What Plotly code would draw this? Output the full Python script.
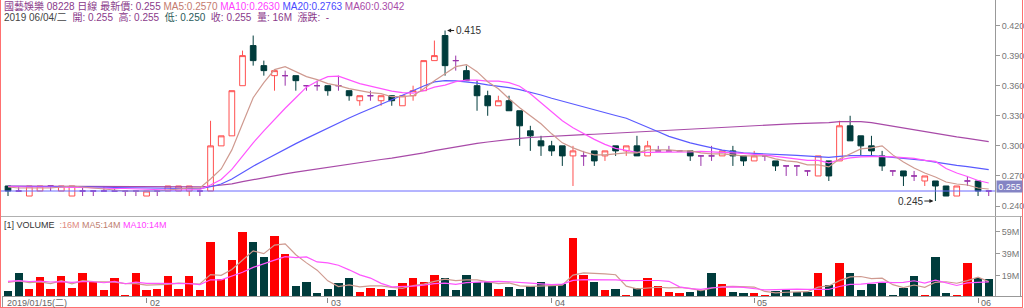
import plotly.graph_objects as go

# ---------------- data ----------------
opens = [0.26, 0.255, 0.25, 0.255, 0.26, 0.255, 0.25, 0.255, 0.255, 0.255,
         0.255, 0.255, 0.255, 0.25, 0.255, 0.255, 0.255, 0.255, 0.255, 0.255,
         0.30, 0.31, 0.36, 0.40, 0.38, 0.37, 0.37, 0.37, 0.36, 0.36,
         0.36, 0.36, 0.355, 0.345, 0.35, 0.345, 0.35, 0.34, 0.35, 0.355,
         0.385, 0.41, 0.385, 0.375, 0.36, 0.35, 0.34, 0.345, 0.335, 0.315,
         0.305, 0.30, 0.30, 0.29, 0.29, 0.295, 0.29, 0.30, 0.295, 0.30,
         0.29, 0.295, 0.295, 0.295, 0.295, 0.29, 0.29, 0.29, 0.295, 0.29,
         0.285, 0.29, 0.285, 0.28, 0.28, 0.275, 0.27, 0.285, 0.285, 0.32,
         0.31, 0.30, 0.29, 0.275, 0.275, 0.27, 0.265, 0.265, 0.26, 0.25,
         0.265, 0.265, 0.255]
highs = [0.26, 0.26, 0.26, 0.26, 0.26, 0.26, 0.26, 0.26, 0.255, 0.26,
         0.26, 0.255, 0.255, 0.255, 0.255, 0.26, 0.26, 0.26, 0.255, 0.325,
         0.31, 0.355, 0.395, 0.41, 0.385, 0.375, 0.375, 0.37, 0.36, 0.365,
         0.36, 0.37, 0.355, 0.35, 0.355, 0.35, 0.35, 0.35, 0.36, 0.385,
         0.405, 0.415, 0.39, 0.38, 0.365, 0.355, 0.35, 0.35, 0.335, 0.32,
         0.31, 0.305, 0.30, 0.30, 0.295, 0.295, 0.295, 0.30, 0.30, 0.31,
         0.305, 0.30, 0.30, 0.295, 0.295, 0.29, 0.30, 0.295, 0.30, 0.29,
         0.295, 0.29, 0.285, 0.28, 0.28, 0.275, 0.29, 0.285, 0.325, 0.33,
         0.31, 0.31, 0.295, 0.275, 0.275, 0.275, 0.27, 0.265, 0.26, 0.26,
         0.27, 0.265, 0.255]
lows = [0.25, 0.255, 0.25, 0.255, 0.255, 0.255, 0.25, 0.25, 0.25, 0.255,
        0.255, 0.25, 0.25, 0.25, 0.25, 0.255, 0.255, 0.25, 0.25, 0.255,
        0.30, 0.31, 0.36, 0.38, 0.37, 0.355, 0.36, 0.355, 0.355, 0.355,
        0.35, 0.355, 0.345, 0.34, 0.345, 0.34, 0.34, 0.34, 0.345, 0.355,
        0.385, 0.37, 0.375, 0.365, 0.335, 0.33, 0.34, 0.335, 0.30, 0.295,
        0.29, 0.29, 0.28, 0.26, 0.28, 0.28, 0.285, 0.29, 0.29, 0.29,
        0.29, 0.295, 0.295, 0.295, 0.285, 0.28, 0.285, 0.29, 0.28, 0.28,
        0.285, 0.285, 0.275, 0.27, 0.27, 0.27, 0.27, 0.265, 0.285, 0.305,
        0.29, 0.29, 0.275, 0.27, 0.26, 0.265, 0.26, 0.245, 0.25, 0.25,
        0.26, 0.25, 0.25]
closes = [0.255, 0.255, 0.26, 0.26, 0.26, 0.26, 0.26, 0.255, 0.255, 0.255,
          0.255, 0.255, 0.255, 0.255, 0.255, 0.26, 0.26, 0.26, 0.255, 0.30,
          0.31, 0.355, 0.39, 0.385, 0.375, 0.375, 0.37, 0.365, 0.36, 0.36,
          0.355, 0.36, 0.35, 0.35, 0.35, 0.35, 0.345, 0.35, 0.355, 0.385,
          0.39, 0.38, 0.385, 0.365, 0.35, 0.34, 0.345, 0.335, 0.32, 0.31,
          0.30, 0.295, 0.29, 0.295, 0.29, 0.285, 0.295, 0.295, 0.30, 0.29,
          0.30, 0.295, 0.295, 0.295, 0.29, 0.29, 0.29, 0.295, 0.29, 0.285,
          0.29, 0.29, 0.28, 0.28, 0.28, 0.275, 0.29, 0.27, 0.32, 0.305,
          0.30, 0.295, 0.28, 0.275, 0.27, 0.27, 0.27, 0.26, 0.25, 0.26,
          0.265, 0.255, 0.255]
# volume in millions of shares
volumes = [5.5, 22.0, 7.3, 18.1, 7.3, 18.7, 7.9, 22.0, 13.9, 6.1,
           16.9, 1.7, 22.0, 6.7, 7.3, 19.3, 7.3, 18.7, 6.1, 49.4,
           16.3, 33.7, 59.0, 50.0, 36.4, 55.4, 38.6, 10.3, 13.3, 3.4,
           7.3, 13.0, 17.5, 4.3, 7.9, 7.3, 6.7, 13.0, 16.9, 13.9,
           20.2, 16.9, 6.4, 20.2, 13.3, 13.3, 7.3, 9.4, 7.3, 10.3,
           13.9, 10.3, 11.5, 53.0, 20.2, 13.3, 6.7, 7.3, 1.7, 7.9,
           16.9, 10.3, 4.3, 3.4, 4.3, 6.1, 21.4, 11.5, 4.9, 3.2,
           4.0, 1.4, 5.5, 7.3, 4.9, 4.9, 22.0, 10.9, 31.0, 22.0,
           6.7, 12.1, 13.3, 1.4, 8.5, 18.7, 1.7, 35.9, 4.0, 1.7,
           30.4, 17.5, 16.0]
# 1 = red volume bar, 0 = dark bar
vol_up = [0, 0, 1, 1, 1, 1, 1, 1, 1, 1,
          1, 1, 1, 1, 1, 1, 1, 1, 1, 1,
          1, 1, 1, 0, 0, 1, 1, 0, 0, 0,
          0, 0, 0, 1, 1, 1, 0, 1, 1, 1,
          1, 0, 0, 0, 0, 0, 1, 0, 0, 0,
          0, 0, 0, 1, 1, 0, 1, 0, 1, 0,
          1, 1, 1, 1, 0, 0, 0, 1, 0, 0,
          1, 1, 0, 0, 0, 0, 1, 0, 1, 0,
          0, 0, 0, 0, 0, 0, 1, 0, 0, 1,
          1, 0, 0]
# level of the moving averages before the first visible bar
prior_close = 0.26
prior_volume = 15.0

first_date_label = "2019/01/15(二)"
month_labels = ["02", "03", "04", "05", "06"]
month_starts = [13, 30, 51, 70, 91]
last_date_label = "2019 06/04/二"
stock_name = "國藝娛樂 08228 日線"
high_mark = 0.415
low_mark = 0.245

price_ticks = [0.24, 0.27, 0.30, 0.33, 0.36, 0.39, 0.42]
vol_ticks = [19, 39, 59]

# ---------------- helpers ----------------
W, H = 1024, 308
def fx(px):
    return px / W
def fy(py):
    return 1 - py / H

n = len(closes)
idx = list(range(n))

def rolling(vals, win, prior):
    ext = [prior] * (win - 1) + list(vals)
    return [sum(ext[i:i + win]) / win for i in range(len(vals))]

def f4(v):
    return f"{v + 1e-9:.4f}"

ma5 = rolling(closes, 5, prior_close)
ma10 = rolling(closes, 10, prior_close)
ma20 = rolling(closes, 20, prior_close)
ma60 = rolling(closes, 60, prior_close)
vma5 = rolling(volumes, 5, prior_volume)
vma10 = rolling(volumes, 10, prior_volume)

UP = "#ff5050"
DN = "#003c3c"
DOJI = "#9933aa"
C_MA5 = "#cf9a90"
C_MA10 = "#ff55ff"
C_MA20 = "#5a5aff"
C_MA60 = "#a84aa8"

def sub(arr, ids):
    return [arr[i] for i in ids]

up_i = [i for i in idx if closes[i] > opens[i]]
dn_i = [i for i in idx if closes[i] < opens[i]]
dj_i = [i for i in idx if closes[i] == opens[i]]

fig = go.Figure()

def candles(ids, line_c, fill_c):
    style = dict(line=dict(color=line_c, width=1), fillcolor=fill_c)
    return go.Candlestick(x=ids, open=sub(opens, ids), high=sub(highs, ids),
                          low=sub(lows, ids), close=sub(closes, ids),
                          increasing=style, decreasing=style,
                          whiskerwidth=0, showlegend=False, hoverinfo="skip",
                          xaxis="x", yaxis="y")

for name, vals, col in [("MA60", ma60, C_MA60), ("MA20", ma20, C_MA20),
                        ("MA10", ma10, C_MA10), ("MA5", ma5, C_MA5)]:
    fig.add_trace(go.Scatter(x=idx, y=vals, mode="lines", line=dict(color=col, width=1.2),
                             showlegend=False, hoverinfo="skip", xaxis="x", yaxis="y"))

fig.add_trace(candles(up_i, UP, "#ffffff"))
fig.add_trace(candles(dn_i, DN, DN))
fig.add_trace(candles(dj_i, DOJI, DOJI))

fig.add_trace(go.Bar(x=idx, y=volumes, width=0.78,
                     marker=dict(color=["#ff0000" if u else DN for u in vol_up], line=dict(width=0)),
                     showlegend=False, hoverinfo="skip", xaxis="x2", yaxis="y2"))
fig.add_trace(go.Scatter(x=idx, y=vma5, mode="lines", line=dict(color=C_MA5, width=1.2),
                         showlegend=False, hoverinfo="skip", xaxis="x2", yaxis="y2"))
fig.add_trace(go.Scatter(x=idx, y=vma10, mode="lines", line=dict(color=C_MA10, width=1.2),
                         showlegend=False, hoverinfo="skip", xaxis="x2", yaxis="y2"))

# pixel -> value mapping for the price panel (0.255 at y=191, 1003 px per unit)
def price_at(py):
    return closes[-1] + (191 - py) / 1003.0

vol_px_per_m = 1.108

xr = [(2 - 8) / 10.66, (995 - 8) / 10.66]
FONT = "Liberation Sans, Arial, Noto Sans CJK TC, sans-serif"

fig.update_layout(
    width=W, height=H, margin=dict(l=0, r=0, t=0, b=0),
    paper_bgcolor="white", plot_bgcolor="white",
    font=dict(family=FONT, size=10, color="#555"),
    boxgap=0.24, bargap=0,
    xaxis=dict(domain=[fx(2), fx(995)], range=xr, anchor="y", showticklabels=False,
               showgrid=False, zeroline=False, showline=False, ticks="",
               rangeslider=dict(visible=False), fixedrange=True),
    xaxis2=dict(domain=[fx(2), fx(995)], range=xr, anchor="y2", matches="x",
                showticklabels=False, showgrid=False, zeroline=False, showline=False,
                ticks="outside", ticklen=5, tickcolor="#888", tickvals=month_starts),
    yaxis=dict(domain=[fy(216), 1], range=[price_at(216), price_at(0)], side="right",
               anchor="x", tickvals=price_ticks, ticktext=[f"{t:.3f}" for t in price_ticks],
               ticks="outside", ticklen=4, tickcolor="#999", showline=True,
               linecolor="#999", linewidth=1, showgrid=False, zeroline=False,
               tickfont=dict(size=9, color="#777")),
    yaxis2=dict(domain=[fy(297), fy(217)], range=[0, (297 - 217) / vol_px_per_m],
                side="right", anchor="x2", tickvals=vol_ticks,
                ticktext=[f"{t}M" for t in vol_ticks], ticks="outside", ticklen=4,
                tickcolor="#999", showline=True, linecolor="#999", linewidth=1,
                showgrid=False, zeroline=False, tickfont=dict(size=9, color="#777")),
)

shapes = [
    dict(type="line", xref="paper", yref="y", x0=0, x1=fx(995), y0=closes[-1], y1=closes[-1],
         line=dict(color="#6a6aff", width=1)),
    dict(type="line", xref="paper", yref="paper", x0=0, x1=fx(1022), y0=fy(216.5), y1=fy(216.5),
         line=dict(color="#b0b0b0", width=1)),
    dict(type="line", xref="paper", yref="paper", x0=fx(2), x1=fx(1022), y0=fy(296.5), y1=fy(296.5),
         line=dict(color="#999", width=1)),
    dict(type="line", xref="paper", yref="paper", x0=fx(2.5), x1=fx(2.5), y0=fy(296.5), y1=fy(307),
         line=dict(color="#999", width=1)),
    dict(type="line", xref="paper", yref="paper", x0=fx(1020.5), x1=fx(1020.5), y0=fy(216.5), y1=fy(296.5),
         line=dict(color="#999", width=1)),
    dict(type="line", xref="paper", yref="paper", x0=fx(0.5), x1=fx(0.5), y0=0, y1=1,
         line=dict(color="#ff7070", width=1)),
    dict(type="line", xref="paper", yref="paper", x0=fx(1022.5), x1=fx(1022.5), y0=0, y1=1,
         line=dict(color="#ff7070", width=1)),
    dict(type="line", xref="paper", yref="paper", x0=0, x1=fx(1023), y0=fy(307.5), y1=fy(307.5),
         line=dict(color="#ff7070", width=1)),
]
fig.update_layout(shapes=shapes)

SP = "\u00a0"
P = "#8a3a8a"
line1 = (f'<span style="color:{P}">{stock_name} 最新價: {closes[-1]:.3f}</span> '
         f'<span style="color:#c47a6e">MA5:{f4(ma5[-1])}</span> '
         f'<span style="color:#ff40ff">MA10:{f4(ma10[-1])}</span> '
         f'<span style="color:#4a4aff">MA20:{f4(ma20[-1])}</span> '
         f'<span style="color:{C_MA60}">MA60:{f4(ma60[-1])}</span>')
line2 = (f'<span style="color:#444">{last_date_label}</span>{SP}{SP}'
         f'<span style="color:{P}">開: {opens[-1]:.3f}{SP}{SP}高: {highs[-1]:.3f}{SP}{SP}</span>'
         f'<span style="color:#2a5a5a">低: {lows[-1]:.3f}</span>{SP}{SP}'
         f'<span style="color:{P}">收: {closes[-1]:.3f}{SP}{SP}量: {volumes[-1]:.0f}M{SP}{SP}漲跌:{SP}{SP}-</span>')
vline = (f'<span style="color:#333">[1] VOLUME</span>{SP}{SP}'
         f'<span style="color:#e08a80">:{volumes[-1]:.0f}M</span> '
         f'<span style="color:#c08070">MA5:{vma5[-1]:.0f}M</span> '
         f'<span style="color:#ff40ff">MA10:{vma10[-1]:.0f}M</span>')

ann = [
    dict(text=line1, xref="paper", yref="paper", x=fx(2), y=fy(6.5), xanchor="left",
         yanchor="middle", showarrow=False, font=dict(size=10)),
    dict(text=line2, xref="paper", yref="paper", x=fx(2), y=fy(17), xanchor="left",
         yanchor="middle", showarrow=False, font=dict(size=10)),
    dict(text=vline, xref="paper", yref="paper", x=fx(2), y=fy(224.5), xanchor="left",
         yanchor="middle", showarrow=False, font=dict(size=9)),
    dict(text=first_date_label, xref="paper", yref="paper", x=fx(5), y=fy(302.5),
         xanchor="left", yanchor="middle", showarrow=False, font=dict(size=9, color="#666")),
    dict(text=f"{closes[-1]:.3f}", xref="paper", yref="y", x=fx(996), y=price_at(186),
         xanchor="left", yanchor="middle", showarrow=False, bgcolor="#8484c4",
         font=dict(size=9, color="white"), width=25, height=11, borderpad=0),
    dict(text=f"{high_mark:.3f}", xref="x", yref="y", x=highs.index(high_mark) + 0.1, y=high_mark,
         ax=22, ay=0, showarrow=True, arrowhead=2, arrowsize=0.8, arrowwidth=1,
         arrowcolor="#222", font=dict(size=10, color="#333"), standoff=1),
    dict(text=f"{low_mark:.3f}", xref="x", yref="y", x=lows.index(low_mark) - 0.1, y=low_mark,
         ax=-24, ay=0, showarrow=True, arrowhead=2, arrowsize=0.8, arrowwidth=1,
         arrowcolor="#222", font=dict(size=10, color="#333"), standoff=1),
]
for lbl, pos in zip(month_labels, month_starts):
    ann.append(dict(text=lbl, xref="x2", yref="paper", x=pos, y=fy(302.5), xanchor="left",
                    xshift=1, yanchor="middle", showarrow=False,
                    font=dict(size=9, color="#666")))
fig.update_layout(annotations=ann)

fig.write_html("out.html")
